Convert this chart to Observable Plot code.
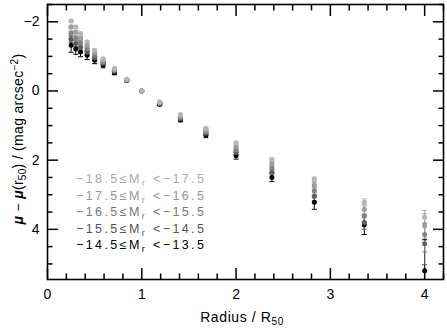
<!DOCTYPE html>
<html><head><meta charset="utf-8">
<script src="https://cdn.jsdelivr.net/npm/d3@7"></script>
<script src="https://cdn.jsdelivr.net/npm/@observablehq/plot@0.6"></script>
<style>
body{margin:0;background:#fff;}
#wrap{position:relative;width:447px;height:330px;font-family:"Liberation Sans",Arial,sans-serif;}
#legend{position:absolute;left:76px;top:171px;font-size:12.5px;line-height:16.5px;letter-spacing:2.4px;white-space:nowrap;}
#legend sub{font-size:9px;vertical-align:-3px;line-height:0;}
#xlab{position:absolute;left:0;width:484px;text-align:center;top:309px;font-size:14px;letter-spacing:0.6px;}
#xlab sub,#ylab sub{font-size:10px;vertical-align:-3px;line-height:0;}
#ylab sup{font-size:10px;vertical-align:5px;line-height:0;}
#ylab{position:absolute;left:18px;top:139px;transform:translate(-50%,-50%) rotate(-90deg);font-size:14px;white-space:nowrap;letter-spacing:0.3px;}
</style></head>
<body><div id="wrap"><div id="chart"></div>
<div id="legend"></div>
<div id="xlab">Radius / R<sub>50</sub></div>
<div id="ylab"><b><i>μ</i></b> − <b><i>μ</i></b>(r<sub>50</sub>) / (mag arcsec<sup>−2</sup>)</div>
</div>
<script>
const radius = [0.25, 0.30, 0.35, 0.42, 0.50, 0.59, 0.71, 0.84, 1.00, 1.19, 1.41, 1.68, 2.00, 2.38, 2.83, 3.36, 4.00];

const mu_m18 = [-2.02, -1.85, -1.66, -1.42, -1.18, -0.93, -0.66, -0.34, 0, 0.31, 0.68, 1.08, 1.50, 1.98, 2.55, 3.22, 3.65];
const mu_m17 = [-1.85, -1.70, -1.53, -1.32, -1.11, -0.88, -0.63, -0.33, 0, 0.33, 0.72, 1.13, 1.60, 2.10, 2.72, 3.42, 3.90];
const mu_m16 = [-1.67, -1.53, -1.40, -1.22, -1.04, -0.84, -0.60, -0.32, 0, 0.35, 0.76, 1.18, 1.70, 2.22, 2.88, 3.62, 4.15];
const mu_m15 = [-1.49, -1.37, -1.26, -1.12, -0.96, -0.80, -0.57, -0.31, 0, 0.37, 0.80, 1.22, 1.78, 2.35, 3.05, 3.80, 4.42];
const mu_m14 = [-1.32, -1.21, -1.13, -1.03, -0.89, -0.75, -0.53, -0.30, 0, 0.39, 0.84, 1.28, 1.87, 2.50, 3.22, 3.87, 5.20];

const err_m18 = [0.04, 0.04, 0.03, 0.03, 0.03, 0.02, 0.02, 0.01, 0, 0.01, 0.02, 0.02, 0.03, 0.04, 0.06, 0.10, 0.20];
const err_m17 = [0.05, 0.05, 0.04, 0.04, 0.03, 0.03, 0.02, 0.01, 0, 0.01, 0.02, 0.03, 0.04, 0.05, 0.08, 0.13, 0.35];
const err_m16 = [0.06, 0.06, 0.05, 0.05, 0.04, 0.03, 0.02, 0.02, 0, 0.02, 0.03, 0.03, 0.05, 0.06, 0.10, 0.16, 0.50];
const err_m15 = [0.08, 0.08, 0.07, 0.06, 0.05, 0.04, 0.03, 0.02, 0, 0.02, 0.03, 0.04, 0.06, 0.08, 0.13, 0.20, 0.60];
const err_m14 = [0.20, 0.15, 0.14, 0.12, 0.10, 0.08, 0.06, 0.03, 0, 0.03, 0.05, 0.07, 0.10, 0.12, 0.20, 0.28, 0.90];

const seriesLo = ["−18.5", "−17.5", "−16.5", "−15.5", "−14.5"];
const seriesHi = ["−17.5", "−16.5", "−15.5", "−14.5", "−13.5"];
const seriesColors = ["#b5b5b5", "#9e9e9e", "#838383", "#5e5e5e", "#000000"];
const legendColors = ["#aaaaaa", "#969696", "#787878", "#555555", "#000000"];

const xMajorTicks = [0, 1, 2, 3, 4];
const xMinorTicks = [0.2, 0.4, 0.6, 0.8, 1.2, 1.4, 1.6, 1.8, 2.2, 2.4, 2.6, 2.8, 3.2, 3.4, 3.6, 3.8, 4.2];
const yMajorTicks = [-2, 0, 2, 4];
const yMinorTicks = [-2.5, -1.5, -1, -0.5, 0.5, 1, 1.5, 2.5, 3, 3.5, 4.5, 5];

const muSeries = [mu_m18, mu_m17, mu_m16, mu_m15, mu_m14];
const errSeries = [err_m18, err_m17, err_m16, err_m15, err_m14];
const rows = [];
// draw darkest first so that lighter series sit on top where they overlap
for (let s = muSeries.length - 1; s >= 0; --s) {
  muSeries[s].forEach((v, i) => rows.push({s, r: radius[i], mu: v, err: errSeries[s][i], color: seriesColors[s]}));
}
const errRows = rows.filter(d => d.err > 0);

const capSymbol = {draw(ctx) { ctx.moveTo(-2.5, 0); ctx.lineTo(2.5, 0); }};

const chart = Plot.plot({
  width: 447, height: 330,
  marginLeft: 47, marginRight: 4, marginTop: 4, marginBottom: 51,
  x: {domain: [0, 4.2]},
  y: {domain: [-2.5, 5.45], reverse: true},
  style: {fontFamily: "Liberation Sans, Arial, sans-serif", color: "#000", background: "transparent"},
  marks: [
    Plot.ruleX(errRows, {x: "r", y1: d => d.mu - d.err, y2: d => d.mu + d.err, stroke: "color", strokeWidth: 1, clip: true}),
    Plot.dot(errRows, {x: "r", y: d => d.mu - d.err, symbol: capSymbol, stroke: "color", strokeWidth: 1, r: 2, clip: true}),
    Plot.dot(errRows, {x: "r", y: d => d.mu + d.err, symbol: capSymbol, stroke: "color", strokeWidth: 1, r: 2, clip: true}),
    Plot.dot(rows, {x: "r", y: "mu", fill: "color", r: 2.5, stroke: "none"}),
    Plot.axisX(xMajorTicks, {anchor: "bottom", tickSize: -11, fill: "none", label: null, strokeWidth: 1.5}),
    Plot.axisX(xMinorTicks, {anchor: "bottom", tickSize: -5.5, fill: "none", label: null, strokeWidth: 1.5}),
    Plot.axisX(xMajorTicks, {anchor: "top", tickSize: -11, fill: "none", label: null, strokeWidth: 1.5}),
    Plot.axisX(xMinorTicks, {anchor: "top", tickSize: -5.5, fill: "none", label: null, strokeWidth: 1.5}),
    Plot.axisY(yMajorTicks, {anchor: "left", tickSize: -11, fill: "none", label: null, strokeWidth: 1.5}),
    Plot.axisY(yMinorTicks, {anchor: "left", tickSize: -5.5, fill: "none", label: null, strokeWidth: 1.5}),
    Plot.axisY(yMajorTicks, {anchor: "right", tickSize: -11, fill: "none", label: null, strokeWidth: 1.5}),
    Plot.axisY(yMinorTicks, {anchor: "right", tickSize: -5.5, fill: "none", label: null, strokeWidth: 1.5}),
    Plot.axisX(xMajorTicks, {anchor: "bottom", tickSize: 0, tickPadding: 10, fontSize: 14, label: null}),
    Plot.axisY(yMajorTicks, {anchor: "left", tickSize: 0, tickPadding: 8, fontSize: 14, label: null, tickFormat: d => d < 0 ? "−" + (-d) : String(d)}),
    Plot.frame({stroke: "#000", strokeWidth: 1.6})
  ]
});
document.getElementById("chart").appendChild(chart);

const legend = d3.select("#legend");
seriesLo.forEach((lo, i) => {
  const row = legend.append("div").style("color", legendColors[i]);
  row.html(`${lo}≤M<sub>r</sub> &lt;${seriesHi[i]}`);
});
</script>
</body></html>
